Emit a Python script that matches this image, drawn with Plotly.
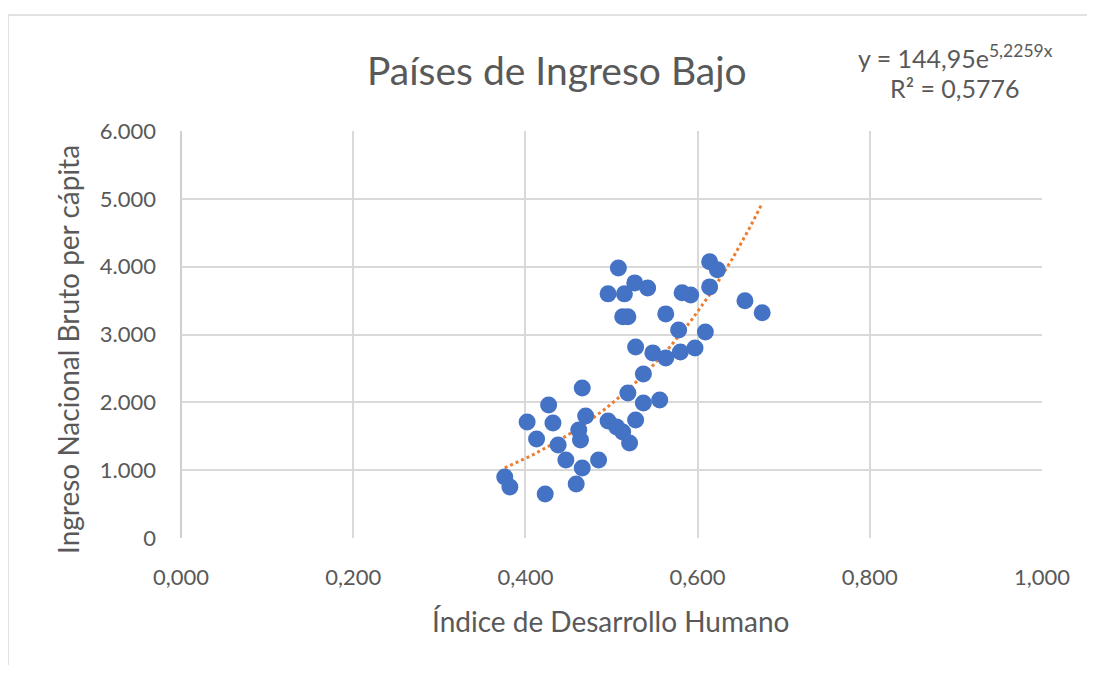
import numpy as np
import plotly.graph_objects as go

idh = [0.376, 0.382, 0.402, 0.413, 0.427, 0.423, 0.432, 0.438, 0.447, 0.459,
       0.462, 0.464, 0.466, 0.466, 0.470, 0.485, 0.496, 0.506, 0.513, 0.521,
       0.519, 0.537, 0.556, 0.528, 0.537, 0.496, 0.508, 0.515, 0.527, 0.542,
       0.513, 0.519, 0.563, 0.582, 0.592, 0.614, 0.623, 0.614, 0.655, 0.675,
       0.578, 0.609, 0.528, 0.548, 0.563, 0.580, 0.597]
ingreso = [900, 752, 1711, 1460, 1962, 649, 1696, 1372, 1150, 796,
           1593, 1445, 2212, 1032, 1799, 1150, 1726, 1637, 1563, 1401,
           2139, 1991, 2035, 1740, 2419, 3599, 3982, 3599, 3761, 3687,
           3260, 3260, 3304, 3614, 3584, 4071, 3953, 3702, 3496, 3319,
           3068, 3038, 2817, 2729, 2655, 2743, 2802]

trend_a = 144.95
trend_b = 5.2259
r2_text = "R² = 0,5776"
eq_text = "y = 144,95e<sup>5,2259x</sup>"
title_text = "Países de Ingreso Bajo"
x_title = "Índice de Desarrollo Humano"
y_title = "Ingreso Nacional Bruto per cápita"

x_ticks = [0, 0.2, 0.4, 0.6, 0.8, 1.0]
x_labels = ["0,000", "0,200", "0,400", "0,600", "0,800", "1,000"]
y_ticks = [0, 1000, 2000, 3000, 4000, 5000, 6000]
y_labels = ["0", "1.000", "2.000", "3.000", "4.000", "5.000", "6.000"]

# page offset of the figure (body margin) is 8px
OFF = 8
W, H = 1079, 657
L, R, T, B = 181, 1042, 131, 538  # plot area in page pixels

xt = np.linspace(min(idh), max(idh), 100)
yt = trend_a * np.exp(trend_b * xt)

FONT = "Lato"
GREY = "#595959"

fig = go.Figure()
fig.add_trace(go.Scatter(x=xt, y=yt, mode="lines",
                         line=dict(color="#ED7D31", width=3, dash="dot"),
                         hoverinfo="skip", showlegend=False))
fig.add_trace(go.Scatter(x=idh, y=ingreso, mode="markers",
                         marker=dict(color="#4472C4", size=17, line=dict(width=0)),
                         showlegend=False))

def px(xp):
    return (xp - L) / (R - L)

def py(yp):
    return (B - yp) / (B - T)

def ann(text, x, y, size, angle=0):
    return dict(text=text, x=px(x), y=py(y), xref="paper", yref="paper",
                showarrow=False, textangle=angle,
                font=dict(size=size, color=GREY, family=FONT),
                xanchor="center", yanchor="middle")

fig.update_layout(
    width=W, height=H,
    margin=dict(l=L - OFF, r=W + OFF - R, t=T - OFF, b=H + OFF - B),
    paper_bgcolor="white", plot_bgcolor="white",
    font=dict(family=FONT, color=GREY),
    xaxis=dict(range=[0, 1], tickvals=x_ticks, ticktext=x_labels,
               showgrid=True, gridcolor="#D9D9D9", gridwidth=1.5,
               zeroline=False, showline=False, ticks="",
               tickfont=dict(size=22, color=GREY), ticklabelstandoff=24),
    yaxis=dict(range=[0, 6000], tickvals=y_ticks, ticktext=y_labels,
               showgrid=True, gridcolor="#D9D9D9", gridwidth=1.5,
               zeroline=False, showline=False, ticks="",
               tickfont=dict(size=22, color=GREY), ticklabelstandoff=24),
    annotations=[
        ann(title_text, 557, 70, 39),
        ann(eq_text, 955, 56, 25),
        ann(r2_text, 955, 88, 25),
        ann(x_title, 610, 621, 28),
        ann(y_title, 68, 350, 28, -90),
    ],
    shapes=[
        dict(type="rect", xref="paper", yref="paper",
             x0=px(8), x1=px(1120), y0=py(700), y1=py(15),
             line=dict(color="#D9D9D9", width=1.5), layer="below"),
        dict(type="line", xref="paper", yref="paper", x0=0, x1=0, y0=0, y1=1,
             line=dict(color="#BFBFBF", width=1.5), layer="below"),
    ],
)

fig.write_html("out.html")
